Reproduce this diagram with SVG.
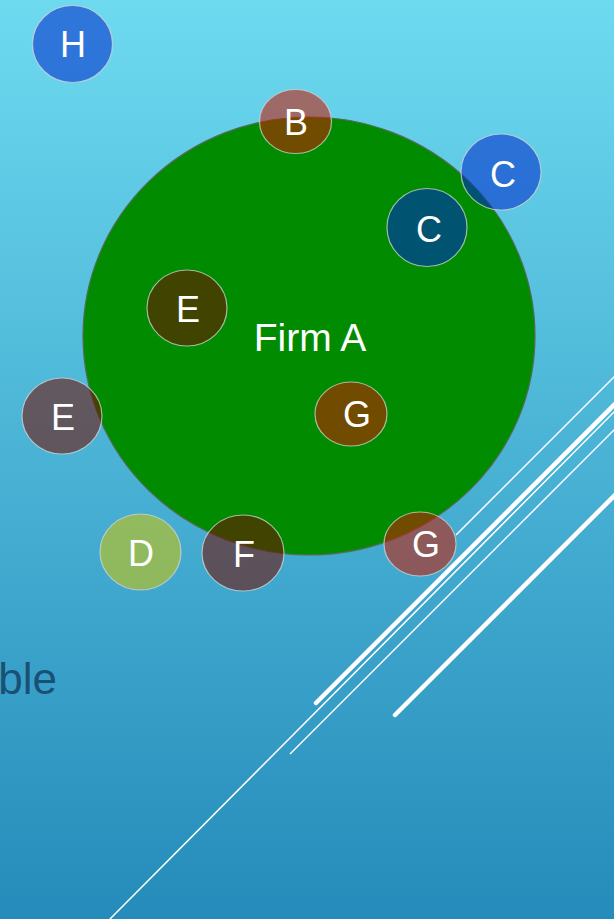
<svg xmlns="http://www.w3.org/2000/svg" width="614" height="919" viewBox="0 0 614 919">
<defs>
<linearGradient id="bg" x1="0" y1="0" x2="0" y2="1">
<stop offset="0" stop-color="#6edaf0"/>
<stop offset="1" stop-color="#258bba"/>
</linearGradient>
</defs>
<style>
.lbl{font-family:"Liberation Sans",Arial,sans-serif;font-size:36px;fill:#fff;text-anchor:middle}
.node ellipse{stroke:#d4d4d4;stroke-opacity:.75;stroke-width:1.2;fill-opacity:.56}
.blue{fill:rgb(0,41,202)}
.red{fill:rgb(200,25,0)}
.maroon{fill:rgb(114,13,0)}
.olive{fill:rgb(207,196,6)}
.thin{stroke:#fff;stroke-width:1.5;fill:none}
.thick{stroke:#fff;stroke-width:4.5;stroke-linecap:round;fill:none}
</style>
<rect x="0" y="0" width="614" height="919" fill="url(#bg)"/>
<g id="decor">
<line class="thin" x1="110" y1="919" x2="620" y2="406"/>
<line class="thin" x1="290" y1="754" x2="620" y2="424"/>
<line class="thin" x1="456" y1="535" x2="620" y2="371"/>
<line class="thick" x1="316" y1="703" x2="620" y2="399"/>
<line class="thick" x1="395" y1="715" x2="620" y2="490"/>
</g>
<text x="57" y="694" font-family="Liberation Sans, Arial, sans-serif" font-size="44" fill="#195176" text-anchor="end">ble</text>
<g id="firmA">
<ellipse cx="309" cy="336" rx="226" ry="219" fill="rgb(0,139,0)" stroke="#566b58" stroke-width="1.2"/>
<text x="310" y="351" font-family="Liberation Sans, Arial, sans-serif" font-size="39" fill="#fff" text-anchor="middle">Firm A</text>
</g>
<g id="connectors"></g>
<g id="nodeH" class="node"><ellipse class="blue" cx="72.5" cy="44" rx="40" ry="38.5"/><text class="lbl" x="73" y="57">H</text></g>
<g id="nodeB" class="node"><ellipse class="red" cx="295.5" cy="121.5" rx="36" ry="32"/><text class="lbl" x="296" y="135">B</text></g>
<g id="nodeC1" class="node"><ellipse class="blue" cx="501" cy="172" rx="40" ry="38"/><text class="lbl" x="503" y="187">C</text></g>
<g id="nodeC2" class="node"><ellipse class="blue" cx="427" cy="227.5" rx="40" ry="39"/><text class="lbl" x="429" y="242">C</text></g>
<g id="nodeE1" class="node"><ellipse class="maroon" cx="187" cy="308" rx="40" ry="38"/><text class="lbl" x="188" y="322">E</text></g>
<g id="nodeE2" class="node"><ellipse class="maroon" cx="62" cy="416" rx="40" ry="38"/><text class="lbl" x="63" y="430">E</text></g>
<g id="nodeG1" class="node"><ellipse class="red" cx="351" cy="414" rx="36" ry="32"/><text class="lbl" x="357" y="427">G</text></g>
<g id="nodeG2" class="node"><ellipse class="red" cx="420" cy="544" rx="36" ry="32"/><text class="lbl" x="426" y="557">G</text></g>
<g id="nodeD" class="node"><ellipse class="olive" cx="140.5" cy="552" rx="40.5" ry="38"/><text class="lbl" x="141" y="566">D</text></g>
<g id="nodeF" class="node"><ellipse class="maroon" cx="243" cy="553" rx="41" ry="38"/><text class="lbl" x="244" y="567">F</text></g>
</svg>
